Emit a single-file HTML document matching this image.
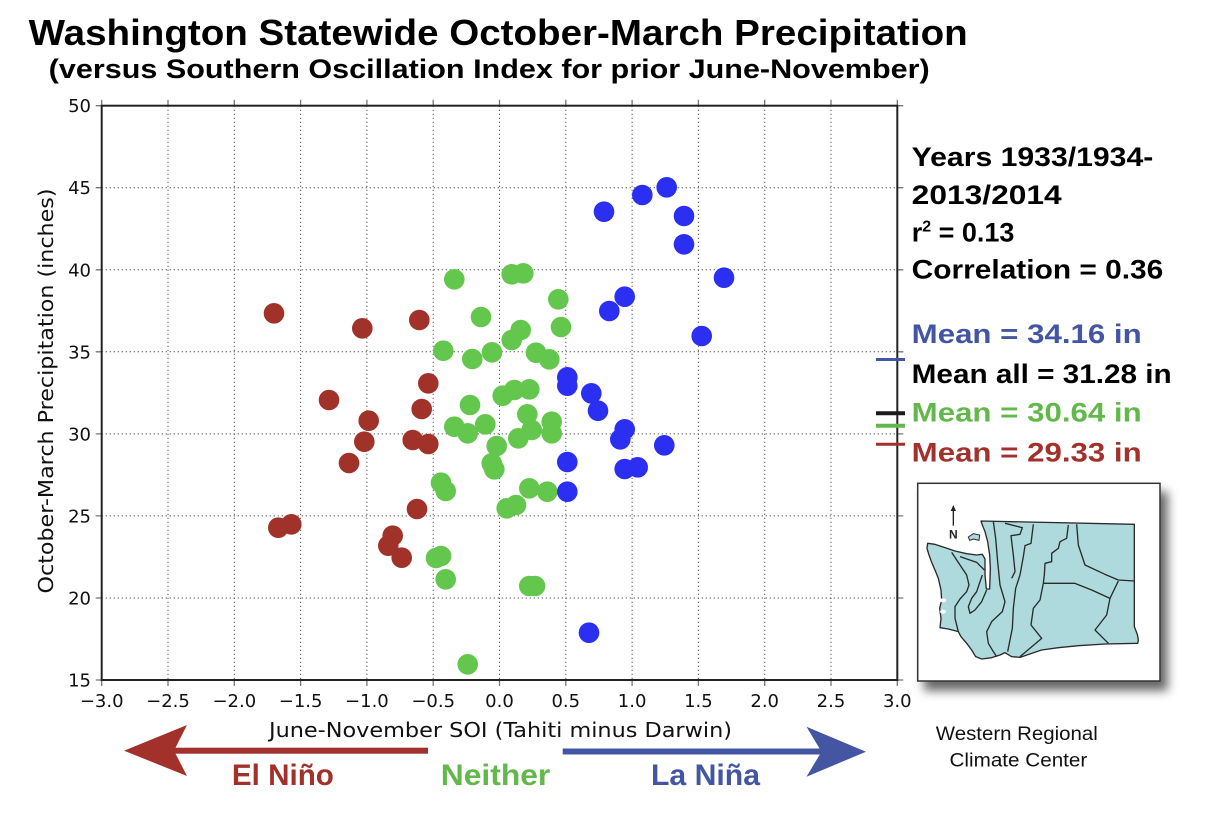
<!DOCTYPE html>
<html>
<head>
<meta charset="utf-8">
<style>
  html,body{margin:0;padding:0;background:#fff;}
  svg{display:block;}
</style>
</head>
<body>
<svg width="1206" height="818" viewBox="0 0 1206 818" xmlns="http://www.w3.org/2000/svg">
  <defs>
    <filter id="sh" x="-20%" y="-20%" width="150%" height="150%">
      <feDropShadow dx="7" dy="9" stdDeviation="5" flood-color="#000" flood-opacity="0.6"/>
    </filter>
  </defs>
  <rect width="1206" height="818" fill="#fff"/>

  <!-- Title -->
  <text x="28.7" y="45" font-family="Liberation Sans, sans-serif" font-size="36" font-weight="bold" fill="#000" textLength="939" lengthAdjust="spacingAndGlyphs">Washington Statewide October-March Precipitation</text>
  <text x="48.7" y="78" font-family="Liberation Sans, sans-serif" font-size="27" font-weight="bold" fill="#000" textLength="881" lengthAdjust="spacingAndGlyphs">(versus Southern Oscillation Index for prior June-November)</text>

  <!-- Grid -->
  <g stroke="#444" stroke-width="1" stroke-dasharray="1.2 2.8" fill="none">
    <line x1="168" y1="105.7" x2="168" y2="680"/>
    <line x1="234.3" y1="105.7" x2="234.3" y2="680"/>
    <line x1="300.6" y1="105.7" x2="300.6" y2="680"/>
    <line x1="366.9" y1="105.7" x2="366.9" y2="680"/>
    <line x1="433.2" y1="105.7" x2="433.2" y2="680"/>
    <line x1="499.5" y1="105.7" x2="499.5" y2="680"/>
    <line x1="565.8" y1="105.7" x2="565.8" y2="680"/>
    <line x1="632.1" y1="105.7" x2="632.1" y2="680"/>
    <line x1="698.4" y1="105.7" x2="698.4" y2="680"/>
    <line x1="764.7" y1="105.7" x2="764.7" y2="680"/>
    <line x1="831" y1="105.7" x2="831" y2="680"/>
    <line x1="101.7" y1="598" x2="897.3" y2="598"/>
    <line x1="101.7" y1="515.9" x2="897.3" y2="515.9"/>
    <line x1="101.7" y1="433.9" x2="897.3" y2="433.9"/>
    <line x1="101.7" y1="351.8" x2="897.3" y2="351.8"/>
    <line x1="101.7" y1="269.8" x2="897.3" y2="269.8"/>
    <line x1="101.7" y1="187.7" x2="897.3" y2="187.7"/>
  </g>

  <!-- Ticks -->
  <g stroke="#777" stroke-width="1.3">
    <path d="M101.7,680v6M168,680v6M234.3,680v6M300.6,680v6M366.9,680v6M433.2,680v6M499.5,680v6M565.8,680v6M632.1,680v6M698.4,680v6M764.7,680v6M831,680v6M897.3,680v6"/>
    <path d="M101.7,105.7v-6M168,105.7v-6M234.3,105.7v-6M300.6,105.7v-6M366.9,105.7v-6M433.2,105.7v-6M499.5,105.7v-6M565.8,105.7v-6M632.1,105.7v-6M698.4,105.7v-6M764.7,105.7v-6M831,105.7v-6M897.3,105.7v-6"/>
    <path d="M101.7,680h-6M101.7,598h-6M101.7,515.9h-6M101.7,433.9h-6M101.7,351.8h-6M101.7,269.8h-6M101.7,187.7h-6M101.7,105.7h-6"/>
    <path d="M897.3,680h6M897.3,598h6M897.3,515.9h6M897.3,433.9h6M897.3,351.8h6M897.3,269.8h6M897.3,187.7h6M897.3,105.7h6"/>
  </g>

  <!-- Points: green -->
  <g fill="#63c74d">
    <circle cx="454.3" cy="279.3" r="10.3"/>
    <circle cx="511.7" cy="274.3" r="10.3"/>
    <circle cx="523.3" cy="273.3" r="10.3"/>
    <circle cx="558.3" cy="299.3" r="10.3"/>
    <circle cx="481" cy="317" r="10.3"/>
    <circle cx="520.7" cy="330" r="10.3"/>
    <circle cx="511.7" cy="340" r="10.3"/>
    <circle cx="561" cy="327" r="10.3"/>
    <circle cx="443.3" cy="350.7" r="10.3"/>
    <circle cx="472.3" cy="359" r="10.3"/>
    <circle cx="492" cy="352.3" r="10.3"/>
    <circle cx="536" cy="352.7" r="10.3"/>
    <circle cx="549.3" cy="359.3" r="10.3"/>
    <circle cx="514.3" cy="390" r="10.3"/>
    <circle cx="529.3" cy="389.3" r="10.3"/>
    <circle cx="502.7" cy="395.7" r="10.3"/>
    <circle cx="470" cy="405" r="10.3"/>
    <circle cx="454.3" cy="426.7" r="10.3"/>
    <circle cx="467.7" cy="433.3" r="10.3"/>
    <circle cx="485.3" cy="424.3" r="10.3"/>
    <circle cx="527.3" cy="414.3" r="10.3"/>
    <circle cx="531.7" cy="430" r="10.3"/>
    <circle cx="551.7" cy="421.7" r="10.3"/>
    <circle cx="551.7" cy="433.3" r="10.3"/>
    <circle cx="518.3" cy="438.3" r="10.3"/>
    <circle cx="496.7" cy="446" r="10.3"/>
    <circle cx="491.7" cy="463.3" r="10.3"/>
    <circle cx="494.3" cy="469.3" r="10.3"/>
    <circle cx="441" cy="482.7" r="10.3"/>
    <circle cx="445.7" cy="491" r="10.3"/>
    <circle cx="529.3" cy="488.3" r="10.3"/>
    <circle cx="547.3" cy="491.7" r="10.3"/>
    <circle cx="506.7" cy="508.3" r="10.3"/>
    <circle cx="516" cy="505" r="10.3"/>
    <circle cx="436" cy="558" r="10.3"/>
    <circle cx="441" cy="556" r="10.3"/>
    <circle cx="445.7" cy="579.3" r="10.3"/>
    <circle cx="529.3" cy="586" r="10.3"/>
    <circle cx="535" cy="586" r="10.3"/>
    <circle cx="467.7" cy="664.3" r="10.3"/>
  </g>
  <!-- Points: red -->
  <g fill="#a0322a">
    <circle cx="274" cy="313.3" r="10.3"/>
    <circle cx="362.3" cy="328.3" r="10.3"/>
    <circle cx="419.3" cy="320" r="10.3"/>
    <circle cx="428.3" cy="383.3" r="10.3"/>
    <circle cx="329" cy="400" r="10.3"/>
    <circle cx="421.7" cy="409" r="10.3"/>
    <circle cx="368.7" cy="420.7" r="10.3"/>
    <circle cx="364.3" cy="441.7" r="10.3"/>
    <circle cx="412.7" cy="440" r="10.3"/>
    <circle cx="428.3" cy="444" r="10.3"/>
    <circle cx="349" cy="463" r="10.3"/>
    <circle cx="417" cy="509" r="10.3"/>
    <circle cx="278.3" cy="527.7" r="10.3"/>
    <circle cx="291.3" cy="524.3" r="10.3"/>
    <circle cx="392.7" cy="535.7" r="10.3"/>
    <circle cx="388.3" cy="545.7" r="10.3"/>
    <circle cx="401.7" cy="557.7" r="10.3"/>
  </g>
  <!-- Points: blue -->
  <g fill="#2a2ff2">
    <circle cx="604" cy="211.7" r="10.3"/>
    <circle cx="642.3" cy="195" r="10.3"/>
    <circle cx="666.7" cy="187.3" r="10.3"/>
    <circle cx="684" cy="216" r="10.3"/>
    <circle cx="684" cy="244.3" r="10.3"/>
    <circle cx="724" cy="277.7" r="10.3"/>
    <circle cx="624.7" cy="296.7" r="10.3"/>
    <circle cx="609.3" cy="311" r="10.3"/>
    <circle cx="701.7" cy="336" r="10.3"/>
    <circle cx="567.3" cy="377.3" r="10.3"/>
    <circle cx="567.3" cy="385.7" r="10.3"/>
    <circle cx="591.3" cy="393.3" r="10.3"/>
    <circle cx="598" cy="410.7" r="10.3"/>
    <circle cx="624.7" cy="429.3" r="10.3"/>
    <circle cx="620.3" cy="439.3" r="10.3"/>
    <circle cx="664.3" cy="445.3" r="10.3"/>
    <circle cx="567.3" cy="462" r="10.3"/>
    <circle cx="624.7" cy="469" r="10.3"/>
    <circle cx="637.7" cy="467.3" r="10.3"/>
    <circle cx="567.3" cy="491.7" r="10.3"/>
    <circle cx="589" cy="632.7" r="10.3"/>
  </g>

  <!-- Spines -->
  <rect x="101.7" y="105.7" width="795.6" height="574.3" fill="none" stroke="#222" stroke-width="2"/>

  <!-- Tick labels -->
  <g font-family="DejaVu Sans, Liberation Sans, sans-serif" font-size="18" fill="#111" text-anchor="end">
    <text x="91" y="686.5">15</text>
    <text x="91" y="604.5">20</text>
    <text x="91" y="522.4">25</text>
    <text x="91" y="440.4">30</text>
    <text x="91" y="358.3">35</text>
    <text x="91" y="276.3">40</text>
    <text x="91" y="194.2">45</text>
    <text x="91" y="112.2">50</text>
  </g>
  <g font-family="DejaVu Sans, Liberation Sans, sans-serif" font-size="18" fill="#111" text-anchor="middle">
    <text x="101.7" y="707">−3.0</text>
    <text x="168" y="707">−2.5</text>
    <text x="234.3" y="707">−2.0</text>
    <text x="300.6" y="707">−1.5</text>
    <text x="366.9" y="707">−1.0</text>
    <text x="433.2" y="707">−0.5</text>
    <text x="499.5" y="707">0.0</text>
    <text x="565.8" y="707">0.5</text>
    <text x="632.1" y="707">1.0</text>
    <text x="698.4" y="707">1.5</text>
    <text x="764.7" y="707">2.0</text>
    <text x="831" y="707">2.5</text>
    <text x="897.3" y="707">3.0</text>
  </g>

  <!-- Axis labels -->
  <text x="500.5" y="737" font-family="DejaVu Sans, Liberation Sans, sans-serif" font-size="20" fill="#111" text-anchor="middle" textLength="463" lengthAdjust="spacingAndGlyphs">June-November SOI (Tahiti minus Darwin)</text>
  <text transform="translate(53,391) rotate(-90)" x="0" y="0" font-family="DejaVu Sans, Liberation Sans, sans-serif" font-size="20" fill="#111" text-anchor="middle" textLength="405" lengthAdjust="spacingAndGlyphs">October-March Precipitation (inches)</text>

  <!-- Right-side stats -->
  <g font-family="Liberation Sans, sans-serif" font-weight="bold" font-size="27" fill="#000">
    <text x="911.7" y="166" textLength="241.6" lengthAdjust="spacingAndGlyphs">Years 1933/1934-</text>
    <text x="911.7" y="204" textLength="150" lengthAdjust="spacingAndGlyphs">2013/2014</text>
    <text x="911.7" y="241.5">r<tspan font-size="16" dy="-10">2</tspan><tspan dy="10"> = 0.13</tspan></text>
    <text x="911.7" y="278.5" textLength="251.6" lengthAdjust="spacingAndGlyphs">Correlation = 0.36</text>
  </g>
  <g font-family="Liberation Sans, sans-serif" font-weight="bold" font-size="27">
    <text x="911.7" y="343" fill="#4355a3" textLength="230" lengthAdjust="spacingAndGlyphs">Mean = 34.16 in</text>
    <text x="911.7" y="383" fill="#000" textLength="260" lengthAdjust="spacingAndGlyphs">Mean all = 31.28 in</text>
    <text x="911.7" y="421.7" fill="#62b84a" textLength="230" lengthAdjust="spacingAndGlyphs">Mean = 30.64 in</text>
    <text x="911.7" y="461.7" fill="#a2312b" textLength="230" lengthAdjust="spacingAndGlyphs">Mean = 29.33 in</text>
  </g>
  <!-- mean markers -->
  <line x1="876" y1="359.5" x2="905" y2="359.5" stroke="#4355a3" stroke-width="3"/>
  <line x1="876" y1="413.3" x2="905" y2="413.3" stroke="#1a1a1a" stroke-width="4"/>
  <line x1="876" y1="425.7" x2="905" y2="425.7" stroke="#62b84a" stroke-width="4"/>
  <line x1="876" y1="444.3" x2="905" y2="444.3" stroke="#a2312b" stroke-width="3"/>

  <!-- Map box -->
  <rect x="917.7" y="483.3" width="242.3" height="197.7" fill="#fff" stroke="#333" stroke-width="1.5" filter="url(#sh)"/>
  <g transform="translate(905,475) scale(0.33333)">
    <path d="M228,138 L688,148 L688,455 L697,478 L700,495 L698,505 L600,507 L520,512 L460,518 L410,525 L380,535 L345,547 L320,545 L300,533 L285,540 L260,548 L230,552 L212,545 L200,525 L185,505 L168,485 L160,470 L130,462 L105,458 L108,430 L104,400 L110,375 L108,345 L100,310 L90,285 L80,262 L72,240 L66,220 L68,205 L90,208 L120,218 L150,228 L185,236 L215,240 L232,238 L240,252 L240,300 L244,342 L254,342 L256,280 L254,240 L248,200 L240,170 L232,150 Z" fill="#aedadd" stroke="#2a2a2a" stroke-width="4" stroke-linejoin="round"/>
    <path d="M190,186 L205,176 L224,180 L222,196 L206,192 L194,196 Z" fill="#aedadd" stroke="#2a2a2a" stroke-width="3"/>
    <ellipse cx="114" cy="376" rx="10" ry="6" fill="#fff"/>
    <ellipse cx="114" cy="410" rx="9" ry="6" fill="#fff"/>
    <g fill="none" stroke="#2a2a2a" stroke-width="4" stroke-linejoin="round">
      <polyline points="140,232 165,270 185,300 192,330 185,350 165,372 150,395 150,430 160,470"/>
      <polyline points="165,245 215,262 238,285"/>
      <polyline points="245,345 230,380 210,405 195,415 190,395 200,370 215,350 225,320 232,300"/>
      <polyline points="265,140 272,190 278,260 285,330 300,380 292,410 260,440 245,470 250,505 265,530 275,545"/>
      <polyline points="300,145 352,158 345,178 318,182 325,240 330,290 320,310"/>
      <polyline points="385,148 378,205 360,212 355,245 345,300 332,340 325,400 322,460 308,530"/>
      <polyline points="490,150 485,190 465,200 460,220 440,235 440,260 420,265 418,300 415,325 410,350 405,375 385,400 378,450 410,490 345,545"/>
      <polyline points="515,148 520,210 540,270 600,298 640,315 688,318"/>
      <polyline points="415,325 510,325 560,345 615,370 640,318"/>
      <polyline points="615,370 605,420 570,465 610,505"/>
    </g>
    <line x1="145" y1="100" x2="145" y2="152" stroke="#222" stroke-width="4"/>
    <polygon points="145,90 137,108 153,108" fill="#222"/>
  </g>
  <text x="953.3" y="538.5" font-family="Liberation Sans, sans-serif" font-weight="bold" font-size="12" fill="#222" text-anchor="middle">N</text>

  <text x="935.8" y="740" font-family="Liberation Sans, sans-serif" font-size="19" fill="#111" textLength="162" lengthAdjust="spacingAndGlyphs">Western Regional</text>
  <text x="949.5" y="766.7" font-family="Liberation Sans, sans-serif" font-size="19" fill="#111" textLength="137.8" lengthAdjust="spacingAndGlyphs">Climate Center</text>

  <!-- Arrows -->
  <rect x="172" y="747.7" width="256" height="6" fill="#a2312b"/>
  <polygon points="124,750.7 187,725 174,750.7 187,776" fill="#a2312b"/>
  <rect x="562.7" y="748.5" width="262" height="6" fill="#4355a3"/>
  <polygon points="866,751.7 806.5,726.7 821.5,751.7 806.5,776.7" fill="#4355a3"/>

  <g font-family="Liberation Sans, sans-serif" font-weight="bold" font-size="30">
    <text x="231.9" y="785" fill="#a2312b" textLength="102" lengthAdjust="spacingAndGlyphs">El Niño</text>
    <text x="440.8" y="785" fill="#62b84a" textLength="109.5" lengthAdjust="spacingAndGlyphs">Neither</text>
    <text x="651" y="785" fill="#4355a3" textLength="109" lengthAdjust="spacingAndGlyphs">La Niña</text>
  </g>
</svg>
</body>
</html>
